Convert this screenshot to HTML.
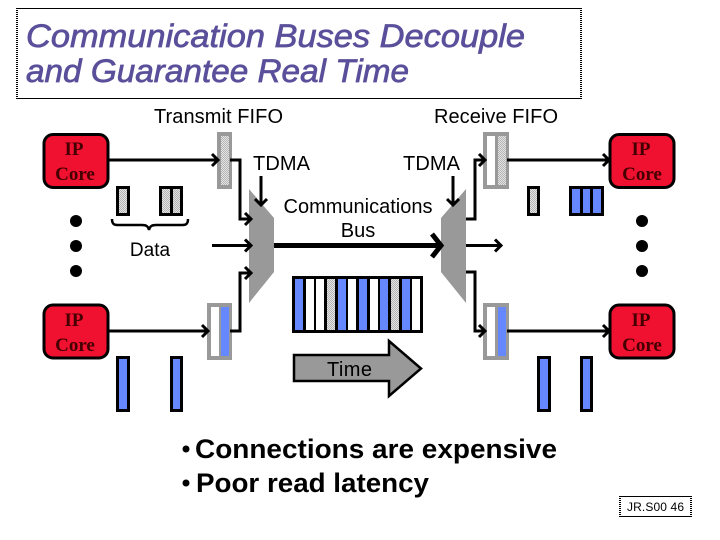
<!DOCTYPE html>
<html><head><meta charset="utf-8"><style>
html,body{margin:0;padding:0;background:#fff}
svg{display:block}
text{font-family:"Liberation Sans",sans-serif;fill:#000}
.ip{font-family:"Liberation Serif",serif;font-weight:bold;font-size:19px;fill:#400;text-anchor:middle}
.l{font-size:20px}
.t{fill:#5a4f9a;stroke:#5a4f9a;stroke-width:.7px;font-size:32px;font-style:italic}
</style></head><body>
<svg width="720" height="540" viewBox="0 0 720 540" xmlns="http://www.w3.org/2000/svg">
<defs>
<pattern id="d" width="2" height="2" patternUnits="userSpaceOnUse"><rect width="2" height="2" fill="#e4e4e4"/><rect width="1" height="1" fill="#b4b4b4"/><rect x="1" y="1" width="1" height="1" fill="#b4b4b4"/></pattern>
<g id="ah"><path d="M-6,-6 L0,0 L-6,6" fill="none" stroke="#000" stroke-width="3"/></g>
</defs>
<rect width="720" height="540" fill="#fff"/>

<!-- title -->
<line x1="17" y1="8.5" x2="581" y2="8.5" stroke="#000"/>
<line x1="17" y1="98.5" x2="581" y2="98.5" stroke="#000"/>
<line x1="17" y1="8" x2="17" y2="99" stroke="#000" stroke-width="2" stroke-dasharray="1 1"/>
<line x1="581" y1="8" x2="581" y2="99" stroke="#000" stroke-width="2" stroke-dasharray="1 1"/>
<text x="26" y="47" class="t" textLength="499" lengthAdjust="spacingAndGlyphs">Communication Buses Decouple</text>
<text x="26" y="82" class="t" textLength="383" lengthAdjust="spacingAndGlyphs">and Guarantee Real Time</text>

<text x="154" y="123" class="l" textLength="129">Transmit FIFO</text>
<text x="434" y="123" class="l" textLength="124">Receive FIFO</text>
<text x="253" y="170" class="l" textLength="57">TDMA</text>
<text x="403" y="170" class="l" textLength="57">TDMA</text>
<text x="358" y="213" class="l" text-anchor="middle">Communications</text>
<text x="358" y="237" class="l" text-anchor="middle">Bus</text>
<text x="150" y="256" text-anchor="middle" font-size="19">Data</text>

<!-- IP cores -->
<g fill="#f0102f" stroke="#000" stroke-width="3">
<rect x="44" y="134.5" width="64" height="53" rx="9"/>
<rect x="44" y="305" width="64" height="53" rx="9"/>
<rect x="610" y="134.5" width="64" height="53" rx="9"/>
<rect x="610" y="305" width="64" height="53" rx="9"/>
</g>
<text class="ip" x="74" y="155">IP</text><text class="ip" x="75" y="180">Core</text>
<text class="ip" x="74" y="326">IP</text><text class="ip" x="75" y="351">Core</text>
<text class="ip" x="641" y="155">IP</text><text class="ip" x="642" y="180">Core</text>
<text class="ip" x="641" y="326">IP</text><text class="ip" x="642" y="351">Core</text>

<!-- dots -->
<g fill="#000">
<circle cx="76" cy="221" r="6"/><circle cx="76" cy="246" r="6"/><circle cx="76" cy="271" r="6"/>
<circle cx="642" cy="221" r="6"/><circle cx="642" cy="246" r="6"/><circle cx="642" cy="271" r="6"/>
</g>

<!-- FIFOs -->
<rect x="217" y="132" width="15" height="57" fill="#999"/><rect x="221" y="136" width="8" height="49" fill="url(#d)"/>
<rect x="207" y="303" width="25" height="57" fill="#999"/><rect x="211" y="307" width="8" height="49" fill="#fff"/><rect x="221" y="307" width="8" height="49" fill="#6688ff"/>
<rect x="483" y="132" width="26" height="57" fill="#999"/><rect x="487" y="136" width="8" height="49" fill="#fff"/><rect x="498" y="136" width="8" height="49" fill="url(#d)"/>
<rect x="483" y="303" width="26" height="57" fill="#999"/><rect x="487" y="307" width="8" height="49" fill="#fff"/><rect x="498" y="307" width="8" height="49" fill="#6688ff"/>

<!-- mux -->
<polygon points="249,189 274,218 274,272 249,303" fill="#999"/>
<polygon points="466,189 441,218 441,272 466,303" fill="#999"/>

<!-- connectors -->
<g fill="none" stroke="#000" stroke-width="3">
<path d="M108,160H217"/>
<path d="M230,160H240V219H250"/>
<path d="M212,245.500H250"/>
<path d="M230,331H240V273H250"/>
<path d="M108,331H207"/>
<path d="M261,176V204"/>
<path d="M453,176V204"/>
<path d="M466,219H475V160H484"/>
<path d="M466,245.500H501"/>
<path d="M466,272H475V331H484"/>
<path d="M507,160H609"/>
<path d="M507,331H609"/>
<path d="M274,245.500H440" stroke-width="5"/>
<path d="M432,234L441,245.500L432,257" stroke-width="5"/>
<path d="M112,219C112,226 116,225 122,225H142C146,225 148,226 149,230C150,226 152,225 156,225H178C184,225 188,226 188,219" stroke-width="2.500"/>
</g>
<use href="#ah" x="218" y="160"/>
<use href="#ah" x="208" y="331"/>
<use href="#ah" x="251" y="219"/>
<use href="#ah" x="251" y="245.500"/>
<use href="#ah" x="251" y="273"/>
<use href="#ah" x="485" y="160"/>
<use href="#ah" x="485" y="331"/>
<use href="#ah" x="501" y="245.500"/>
<use href="#ah" x="609" y="160"/>
<use href="#ah" x="609" y="331"/>
<use href="#ah" transform="translate(261,205) rotate(90)"/>
<use href="#ah" transform="translate(453,205) rotate(90)"/>

<!-- data boxes -->
<g stroke="#000" stroke-width="3">
<rect x="117.500" y="187.500" width="11" height="27" fill="url(#d)"/>
<rect x="160.500" y="187.500" width="11" height="27" fill="url(#d)"/>
<rect x="171.500" y="187.500" width="10" height="27" fill="url(#d)"/>
<rect x="528.500" y="187.500" width="10" height="27" fill="url(#d)"/>
<rect x="570.500" y="187.500" width="11" height="27" fill="#6688ff"/>
<rect x="581.500" y="187.500" width="10" height="27" fill="#6688ff"/>
<rect x="591.500" y="187.500" width="11" height="27" fill="#6688ff"/>
<rect x="117.500" y="357.500" width="11" height="53" fill="#6688ff"/>
<rect x="171.500" y="357.500" width="10" height="53" fill="#6688ff"/>
<rect x="538.500" y="357.500" width="11" height="53" fill="#6688ff"/>
<rect x="581.500" y="357.500" width="10" height="53" fill="#6688ff"/>
</g>

<!-- time slots -->
<rect x="292" y="276" width="131" height="57" fill="#000"/>
<g>
<rect x="295" y="279" width="8" height="51" fill="#6688ff"/>
<rect x="306" y="279" width="8" height="51" fill="#fff"/>
<rect x="316" y="279" width="8" height="51" fill="#fff"/>
<rect x="327" y="279" width="8" height="51" fill="url(#d)"/>
<rect x="338" y="279" width="8" height="51" fill="#6688ff"/>
<rect x="348" y="279" width="8" height="51" fill="#fff"/>
<rect x="359" y="279" width="8" height="51" fill="#6688ff"/>
<rect x="370" y="279" width="8" height="51" fill="#fff"/>
<rect x="380" y="279" width="8" height="51" fill="#6688ff"/>
<rect x="391" y="279" width="8" height="51" fill="url(#d)"/>
<rect x="402" y="279" width="8" height="51" fill="#6688ff"/>
<rect x="412" y="279" width="8" height="51" fill="#fff"/>
</g>

<!-- time arrow -->
<polygon points="294,355 389,355 389,341 421,368.500 389,396 389,381 294,381" fill="#999" stroke="#000" stroke-width="2.500"/>
<text x="327" y="376" class="l" textLength="45">Time</text>

<!-- bullets -->
<circle cx="186" cy="449" r="3.500" fill="#000"/>
<circle cx="186" cy="483" r="3.500" fill="#000"/>
<text x="195" y="458" font-size="27" font-weight="bold" textLength="362" lengthAdjust="spacingAndGlyphs">Connections are expensive</text>
<text x="196" y="492" font-size="27" font-weight="bold" textLength="233" lengthAdjust="spacingAndGlyphs">Poor read latency</text>

<!-- footer -->
<line x1="619" y1="496.500" x2="692" y2="496.500" stroke="#000"/>
<line x1="619" y1="516.500" x2="692" y2="516.500" stroke="#000"/>
<line x1="620" y1="496" x2="620" y2="517" stroke="#000" stroke-width="2" stroke-dasharray="1 1"/>
<line x1="691" y1="496" x2="691" y2="517" stroke="#000" stroke-width="2" stroke-dasharray="1 1"/>
<text x="627" y="511" font-size="12" textLength="57">JR.S00 46</text>
</svg>
</body></html>
